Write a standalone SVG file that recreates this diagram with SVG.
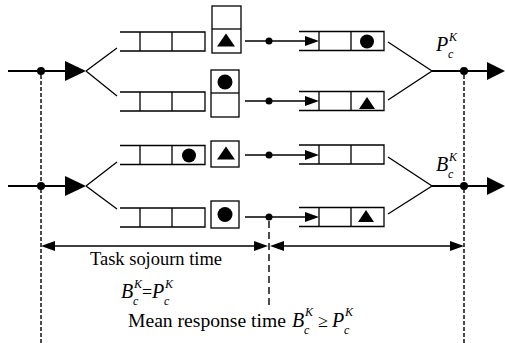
<svg xmlns="http://www.w3.org/2000/svg" width="505" height="343" viewBox="0 0 505 343">
<style>
.ln{stroke:#000;stroke-width:1.3;fill:none}
.thk{stroke:#000;stroke-width:2;fill:none}
.box{stroke:#000;stroke-width:1.3;fill:#fff}
.dsh{stroke:#000;stroke-width:1.4;fill:none;stroke-dasharray:4 2}
.dsh2{stroke:#000;stroke-width:1.4;fill:none;stroke-dasharray:7 4}
.f{fill:#000}
text{font-family:'Liberation Serif','Times New Roman',serif;fill:#000}
.t{font-size:18px}
.m{font-style:italic;font-size:20px}
.s{font-size:12px}
</style>
<defs>
<g id="lq"><path class="ln" d="M0,0H85V19H0M20,0V19M52,0V19"/></g>
<g id="rq"><path class="ln" d="M0,0H85V19H0M20,0V19M52,0V19"/></g>
<polygon id="tri" points="-9,6.5 9,6.5 0,-6.5" class="f"/>
<polygon id="stri" points="-8,6 8,6 0,-6" class="f"/>
</defs>

<g id="connectors">
<line class="thk" x1="8" y1="71" x2="70" y2="71"/>
<line class="thk" x1="8" y1="186" x2="70" y2="186"/>
<polygon class="f" points="65,61 86,71 65,81"/>
<polygon class="f" points="65,176 86,186 65,196"/>
<circle class="f" cx="41" cy="71" r="4"/>
<circle class="f" cx="41" cy="186" r="4"/>
<path class="ln" d="M86,71L117,48M86,71L117,96"/>
<path class="ln" d="M86,186L117,162M86,186L117,209"/>
<line class="ln" x1="245" y1="41" x2="310" y2="41"/>
<line class="ln" x1="245" y1="101" x2="310" y2="101"/>
<line class="ln" x1="245" y1="155" x2="310" y2="155"/>
<line class="ln" x1="245" y1="217" x2="310" y2="217"/>
<polygon class="f" points="305,36 319,41 305,46"/>
<polygon class="f" points="305,96 319,101 305,106"/>
<polygon class="f" points="305,150 319,155 305,160"/>
<polygon class="f" points="305,212 319,217 305,222"/>
<circle class="f" cx="269" cy="41" r="3.5"/>
<circle class="f" cx="269" cy="101" r="3.5"/>
<circle class="f" cx="269" cy="155" r="3.5"/>
<circle class="f" cx="269" cy="217" r="3.5"/>
<path class="ln" d="M388,42L432,71L388,100"/>
<path class="ln" d="M388,157L432,186L388,214"/>
<line class="thk" x1="432" y1="71" x2="490" y2="71"/>
<line class="thk" x1="432" y1="186" x2="490" y2="186"/>
<polygon class="f" points="487,62 505,71 487,80"/>
<polygon class="f" points="487,177 505,186 487,195"/>
<circle class="f" cx="464" cy="71" r="4"/>
<circle class="f" cx="464" cy="186" r="4"/>
<line class="dsh" x1="41" y1="75" x2="41" y2="343"/>
<line class="dsh" x1="464" y1="75" x2="464" y2="343"/>
<line class="dsh2" x1="269" y1="221" x2="269" y2="307"/>
<line class="ln" x1="50" y1="246" x2="260" y2="246"/>
<line class="ln" x1="280" y1="246" x2="455" y2="246"/>
<polygon class="f" points="41,246 55,241 55,251"/>
<polygon class="f" points="268,246 254,241 254,251"/>
<polygon class="f" points="270,246 284,241 284,251"/>
<polygon class="f" points="464,246 450,241 450,251"/>
</g>

<g id="queue1"><use href="#lq" x="120" y="32"/></g>
<g id="queue2"><use href="#lq" x="120" y="92"/></g>
<g id="queue3"><use href="#lq" x="120" y="145.5"/><circle class="f" cx="189" cy="155.5" r="7"/></g>
<g id="queue4"><use href="#lq" x="120" y="208"/></g>

<g id="server1"><rect class="box" x="212" y="6" width="29" height="47"/><line class="ln" x1="212" y1="29" x2="241" y2="29"/><use href="#tri" x="226" y="40"/></g>
<g id="server2"><rect class="box" x="211" y="70" width="28" height="47"/><line class="ln" x1="211" y1="93" x2="239" y2="93"/><circle class="f" cx="225" cy="82" r="7.5"/></g>
<g id="server3"><rect class="box" x="211" y="141" width="28" height="26"/><use href="#tri" x="226" y="153"/></g>
<g id="server4"><rect class="box" x="211" y="201" width="28" height="27"/><circle class="f" cx="225" cy="214.5" r="7.5"/></g>

<g id="rqueue1"><use href="#rq" x="299" y="31.5"/><circle class="f" cx="367" cy="41.5" r="7"/></g>
<g id="rqueue2"><use href="#rq" x="299" y="91.5"/><use href="#stri" x="367" y="103"/></g>
<g id="rqueue3"><use href="#rq" x="299" y="145"/></g>
<g id="rqueue4"><use href="#rq" x="299" y="207.5"/><use href="#stri" x="366" y="216"/></g>

<g id="labels">
<text class="m" x="436" y="51">P<tspan class="s" x="449" y="41">K</tspan><tspan class="s" x="448" y="58">c</tspan></text>
<text class="m" x="436" y="171">B<tspan class="s" x="449" y="161">K</tspan><tspan class="s" x="448" y="178">c</tspan></text>
<text class="t" x="90" y="265" textLength="132" lengthAdjust="spacingAndGlyphs">Task sojourn time</text>
<text class="m" x="121" y="298">B<tspan class="s" x="134" y="288">K</tspan><tspan class="s" x="133" y="305">c</tspan><tspan x="142" y="298" font-style="normal" font-size="18">=</tspan><tspan x="152" y="298">P</tspan><tspan class="s" x="165" y="288">K</tspan><tspan class="s" x="164" y="305">c</tspan></text>
<text class="t" x="128" y="327" textLength="158" lengthAdjust="spacingAndGlyphs">Mean response time</text>
<text class="m" x="292" y="327">B<tspan class="s" x="305" y="316">K</tspan><tspan class="s" x="304" y="334">c</tspan><tspan x="318" y="327" font-style="normal" font-size="18">≥</tspan><tspan x="332" y="327">P</tspan><tspan class="s" x="345" y="316">K</tspan><tspan class="s" x="344" y="334">c</tspan></text>
</g>
</svg>
